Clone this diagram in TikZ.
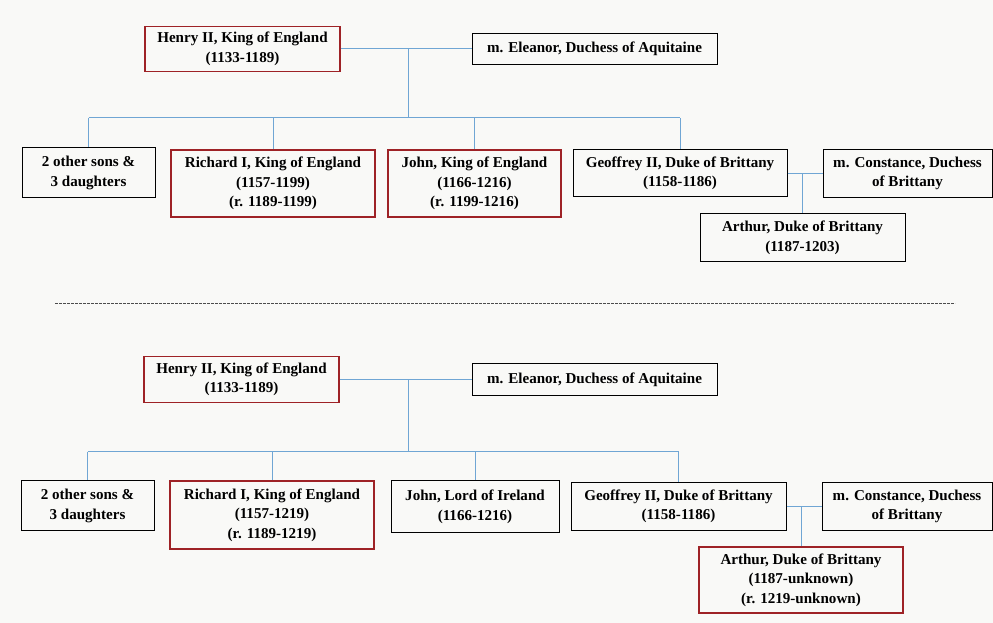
\documentclass[tikz,border=0pt]{standalone}
\usepackage{fontspec}
\setmainfont{Liberation Serif}
\definecolor{kingred}{RGB}{158,34,38}
\definecolor{linkblue}{RGB}{112,166,212}
\definecolor{paper}{RGB}{249,249,247}
\begin{document}
\begin{tikzpicture}[x=0.75pt,y=0.75pt,yscale=-1,xscale=1,
  person/.style={draw=black,line width=0.75,align=center,inner sep=0.75pt,font=\fontsize{11.3}{14.6}\selectfont\bfseries},
  ruler/.style={person,draw=kingred,line width=1.2},
  link/.style={draw=linkblue,line width=0.75}]
%set diagram size
\fill [paper] (0,0) rectangle (993,623);
\useasboundingbox (0,0) rectangle (993,623);

%% ---- upper tree ----
% Text Nodes
\node [ruler, minimum width=146.25pt, minimum height=33.75pt] (henryA) at (242.5,49) {Henry II, King of England\\(1133-1189)};
\node [person, minimum width=183.75pt, minimum height=23.25pt] (eleanorA) at (594.5,49) {m. Eleanor, Duchess of Aquitaine};
\node [person, minimum width=99.75pt, minimum height=37.5pt] (othersA) at (88.5,173) {2 other sons \&\\3 daughters};
\node [ruler, minimum width=153pt, minimum height=50.25pt] (richardA) at (273,183.5) {Richard I, King of England\\(1157-1199)\\(r. 1189-1199)};
\node [ruler, minimum width=129.75pt, minimum height=50.25pt] (johnA) at (474.5,183.5) {John, King of England\\(1166-1216)\\(r. 1199-1216)};
\node [person, minimum width=160.5pt, minimum height=35.25pt] (geoffreyA) at (680,173.5) {Geoffrey II, Duke of Brittany\\(1158-1186)};
\node [person, minimum width=126.75pt, minimum height=36pt] (constanceA) at (907.5,173.5) {m. Constance, Duchess\\of Brittany};
\node [person, minimum width=153.75pt, minimum height=36pt] (arthurA) at (802.5,238) {Arthur, Duke of Brittany\\(1187-1203)};

\coordinate (mA) at (408,49);
\coordinate (barA) at (408,118);

% Straight Lines
\draw [link] (henryA.east) -- (eleanorA.west);
\draw [link] (mA) -- (barA);
\draw [link] (barA -| othersA.north) -- (barA -| geoffreyA.north);
\foreach \kid in {othersA,richardA,johnA,geoffreyA}
  \draw [link] (barA -| \kid.north) -- (\kid.north);
\draw [link] (geoffreyA.east) -- (constanceA.west);
\draw [link] (geoffreyA.east -| arthurA.north) -- (arthurA.north);

%Dashed Line
\draw [black!70, line width=0.6, dash pattern=on 2pt off 1pt] (55,303) -- (955,303);

%% ---- lower tree ----
% Text Nodes
\node [ruler, minimum width=146.25pt, minimum height=34.5pt] (henryB) at (241.5,379.5) {Henry II, King of England\\(1133-1189)};
\node [person, minimum width=183.75pt, minimum height=24pt] (eleanorB) at (594.5,379.5) {m. Eleanor, Duchess of Aquitaine};
\node [person, minimum width=99.75pt, minimum height=37.5pt] (othersB) at (87.5,506) {2 other sons \&\\3 daughters};
\node [ruler, minimum width=153pt, minimum height=51pt] (richardB) at (272,515) {Richard I, King of England\\(1157-1219)\\(r. 1189-1219)};
\node [person, minimum width=126pt, minimum height=39pt] (johnB) at (475,507) {John, Lord of Ireland\\(1166-1216)};
\node [person, minimum width=161.25pt, minimum height=36pt] (geoffreyB) at (678.5,506.5) {Geoffrey II, Duke of Brittany\\(1158-1186)};
\node [person, minimum width=127.5pt, minimum height=36pt] (constanceB) at (907,506.5) {m. Constance, Duchess\\of Brittany};
\node [ruler, minimum width=153pt, minimum height=49.5pt] (arthurB) at (801,580) {Arthur, Duke of Brittany\\(1187-unknown)\\(r. 1219-unknown)};

\coordinate (mB) at (408,379.5);
\coordinate (barB) at (408,452);

% Straight Lines
\draw [link] (henryB.east) -- (eleanorB.west);
\draw [link] (mB) -- (barB);
\draw [link] (barB -| othersB.north) -- (barB -| geoffreyB.north);
\foreach \kid in {othersB,richardB,johnB,geoffreyB}
  \draw [link] (barB -| \kid.north) -- (\kid.north);
\draw [link] (geoffreyB.east) -- (constanceB.west);
\draw [link] (geoffreyB.east -| arthurB.north) -- (arthurB.north);

\end{tikzpicture}
\end{document}
